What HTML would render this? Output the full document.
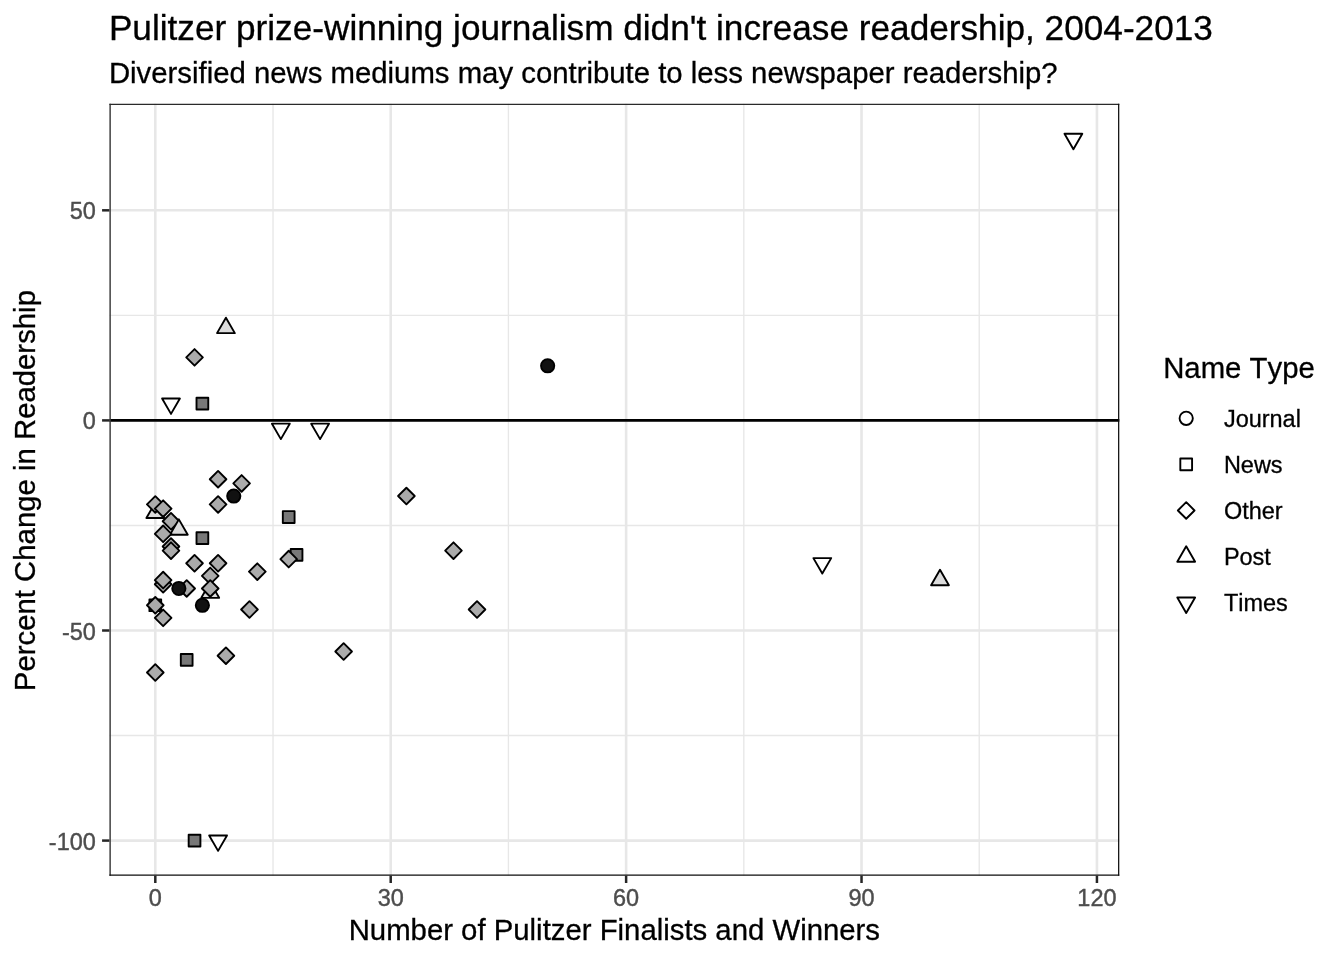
<!DOCTYPE html>
<html lang="en">
<head>
<meta charset="utf-8">
<title>Pulitzer prize-winning journalism didn't increase readership, 2004-2013</title>
<style>
html,body{margin:0;padding:0;background:#fff;}
body{width:1344px;height:960px;overflow:hidden;}
svg{display:block;}
text{font-family:"Liberation Sans",sans-serif;font-kerning:none;}
.ax{font-size:23.47px;fill:#4D4D4D;stroke:#4D4D4D;stroke-width:0.4px;}
.lab{font-size:29.33px;fill:#000;stroke:#000;stroke-width:0.3px;}
.ttl{font-size:35.2px;fill:#000;stroke:#000;stroke-width:0.3px;}
.leg{font-size:23.47px;fill:#000;stroke:#000;stroke-width:0.3px;}
</style>
</head>
<body>
<svg width="1344" height="960" viewBox="0 0 1344 960">
<rect x="0" y="0" width="1344" height="960" fill="#FFFFFF"/>
<text x="108.9" y="40" class="ttl">Pulitzer prize-winning journalism didn't increase readership, 2004-2013</text>
<text x="108.9" y="83" class="lab">Diversified news mediums may contribute to less newspaper readership?</text>
<g stroke="#E7E7E7" fill="none">
<line x1="109.40" x2="1119.30" y1="315.36" y2="315.36" stroke-width="1.35"/>
<line x1="109.40" x2="1119.30" y1="525.45" y2="525.45" stroke-width="1.35"/>
<line x1="109.40" x2="1119.30" y1="735.54" y2="735.54" stroke-width="1.35"/>
<line x1="273.01" x2="273.01" y1="103.80" y2="875.67" stroke-width="1.35"/>
<line x1="508.42" x2="508.42" y1="103.80" y2="875.67" stroke-width="1.35"/>
<line x1="743.82" x2="743.82" y1="103.80" y2="875.67" stroke-width="1.35"/>
<line x1="979.23" x2="979.23" y1="103.80" y2="875.67" stroke-width="1.35"/>
<line x1="109.40" x2="1119.30" y1="210.32" y2="210.32" stroke-width="2.6"/>
<line x1="109.40" x2="1119.30" y1="420.41" y2="420.41" stroke-width="2.6"/>
<line x1="109.40" x2="1119.30" y1="630.50" y2="630.50" stroke-width="2.6"/>
<line x1="109.40" x2="1119.30" y1="840.59" y2="840.59" stroke-width="2.6"/>
<line x1="155.30" x2="155.30" y1="103.80" y2="875.67" stroke-width="2.6"/>
<line x1="390.71" x2="390.71" y1="103.80" y2="875.67" stroke-width="2.6"/>
<line x1="626.12" x2="626.12" y1="103.80" y2="875.67" stroke-width="2.6"/>
<line x1="861.53" x2="861.53" y1="103.80" y2="875.67" stroke-width="2.6"/>
<line x1="1096.94" x2="1096.94" y1="103.80" y2="875.67" stroke-width="2.6"/>
</g>
<line x1="109.40" x2="1119.30" y1="420.41" y2="420.41" stroke="#000" stroke-width="2.6"/>
<g stroke="#000" stroke-width="1.89" stroke-linejoin="round">
<polygon points="162.68,521.25 171.00,512.93 179.31,521.25 171.00,529.56" fill="#ABABAB"/>
<circle cx="547.65" cy="365.78" r="6.63" fill="#111111"/>
<polygon points="1073.40,149.17 1082.31,133.74 1064.49,133.74" fill="#FFFFFF"/>
<polygon points="822.29,573.56 831.20,558.12 813.38,558.12" fill="#FFFFFF"/>
<polygon points="940.00,569.78 948.91,585.22 931.09,585.22" fill="#DCDCDC"/>
<rect x="196.51" y="532.18" width="11.76" height="11.76" fill="#787878"/>
<polygon points="155.30,502.56 164.21,517.99 146.39,517.99" fill="#DCDCDC"/>
<polygon points="445.17,550.66 453.49,542.35 461.80,550.66 453.49,558.98" fill="#ABABAB"/>
<rect x="196.51" y="397.72" width="11.76" height="11.76" fill="#787878"/>
<rect x="290.67" y="548.98" width="11.76" height="11.76" fill="#787878"/>
<polygon points="186.23,563.27 194.54,554.95 202.85,563.27 194.54,571.58" fill="#ABABAB"/>
<rect x="282.82" y="511.17" width="11.76" height="11.76" fill="#787878"/>
<polygon points="217.61,655.71 225.93,647.39 234.24,655.71 225.93,664.02" fill="#ABABAB"/>
<polygon points="201.92,575.87 210.23,567.56 218.55,575.87 210.23,584.19" fill="#ABABAB"/>
<polygon points="171.00,413.89 179.91,398.45 162.09,398.45" fill="#FFFFFF"/>
<polygon points="468.71,609.49 477.03,601.17 485.34,609.49 477.03,617.80" fill="#ABABAB"/>
<circle cx="202.39" cy="605.28" r="6.63" fill="#111111"/>
<polygon points="233.31,483.43 241.62,475.12 249.93,483.43 241.62,491.75" fill="#ABABAB"/>
<polygon points="241.15,609.49 249.47,601.17 257.78,609.49 249.47,617.80" fill="#ABABAB"/>
<polygon points="209.77,504.44 218.08,496.13 226.39,504.44 218.08,512.76" fill="#ABABAB"/>
<polygon points="398.09,496.04 406.41,487.72 414.72,496.04 406.41,504.35" fill="#ABABAB"/>
<polygon points="209.77,479.23 218.08,470.92 226.39,479.23 218.08,487.54" fill="#ABABAB"/>
<polygon points="162.68,546.46 171.00,538.15 179.31,546.46 171.00,554.77" fill="#ABABAB"/>
<polygon points="320.09,439.10 329.00,423.66 311.18,423.66" fill="#FFFFFF"/>
<polygon points="225.93,317.68 234.84,333.11 217.02,333.11" fill="#DCDCDC"/>
<rect x="188.66" y="834.71" width="11.76" height="11.76" fill="#787878"/>
<polygon points="280.39,559.06 288.70,550.75 297.02,559.06 288.70,567.38" fill="#ABABAB"/>
<polygon points="335.32,651.50 343.63,643.19 351.94,651.50 343.63,659.82" fill="#ABABAB"/>
<polygon points="186.23,357.38 194.54,349.06 202.85,357.38 194.54,365.69" fill="#ABABAB"/>
<polygon points="209.77,563.27 218.08,554.95 226.39,563.27 218.08,571.58" fill="#ABABAB"/>
<polygon points="210.23,582.39 219.14,597.82 201.32,597.82" fill="#DCDCDC"/>
<polygon points="249.00,571.67 257.31,563.36 265.63,571.67 257.31,579.98" fill="#ABABAB"/>
<polygon points="162.68,550.66 171.00,542.35 179.31,550.66 171.00,558.98" fill="#ABABAB"/>
<rect x="180.81" y="654.03" width="11.76" height="11.76" fill="#787878"/>
<polygon points="178.38,588.48 186.69,580.16 195.01,588.48 186.69,596.79" fill="#ABABAB"/>
<polygon points="154.84,584.28 163.15,575.96 171.47,584.28 163.15,592.59" fill="#ABABAB"/>
<polygon points="218.08,850.87 226.99,835.44 209.17,835.44" fill="#FFFFFF"/>
<polygon points="154.84,617.89 163.15,609.58 171.47,617.89 163.15,626.20" fill="#ABABAB"/>
<polygon points="154.84,580.07 163.15,571.76 171.47,580.07 163.15,588.39" fill="#ABABAB"/>
<rect x="149.43" y="599.41" width="11.76" height="11.76" fill="#787878"/>
<polygon points="178.85,519.36 187.76,534.80 169.93,534.80" fill="#DCDCDC"/>
<circle cx="233.77" cy="496.04" r="6.63" fill="#111111"/>
<polygon points="146.99,504.44 155.30,496.13 163.62,504.44 155.30,512.76" fill="#ABABAB"/>
<polygon points="154.84,508.64 163.15,500.33 171.47,508.64 163.15,516.96" fill="#ABABAB"/>
<polygon points="146.99,672.51 155.30,664.20 163.62,672.51 155.30,680.83" fill="#ABABAB"/>
<polygon points="280.86,439.10 289.77,423.66 271.94,423.66" fill="#FFFFFF"/>
<polygon points="201.92,588.48 210.23,580.16 218.55,588.48 210.23,596.79" fill="#ABABAB"/>
<polygon points="146.99,605.28 155.30,596.97 163.62,605.28 155.30,613.60" fill="#ABABAB"/>
<circle cx="178.85" cy="588.48" r="6.63" fill="#111111"/>
<polygon points="154.84,533.85 163.15,525.54 171.47,533.85 163.15,542.17" fill="#ABABAB"/>
</g>
<clipPath id="pc"><rect x="109.40" y="103.80" width="1009.90" height="771.87"/></clipPath>
<g clip-path="url(#pc)" fill="none" stroke-width="2.5" stroke-linecap="square">
<line x1="109.40" x2="109.40" y1="103.80" y2="875.67" stroke="#3A3A3A" stroke-width="2.9"/>
<line x1="109.40" x2="1119.30" y1="103.80" y2="103.80" stroke="#2A2A2A"/>
<line x1="1119.30" x2="1119.30" y1="103.80" y2="875.67" stroke="#0D0D0D"/>
<line x1="109.40" x2="1119.30" y1="875.67" y2="875.67" stroke="#0D0D0D"/>
</g>
<g stroke="#262626" stroke-width="2.5">
<line x1="102.07" x2="109.40" y1="210.32" y2="210.32"/>
<line x1="102.07" x2="109.40" y1="420.41" y2="420.41"/>
<line x1="102.07" x2="109.40" y1="630.50" y2="630.50"/>
<line x1="102.07" x2="109.40" y1="840.59" y2="840.59"/>
<line x1="155.30" x2="155.30" y1="875.67" y2="883.00"/>
<line x1="390.71" x2="390.71" y1="875.67" y2="883.00"/>
<line x1="626.12" x2="626.12" y1="875.67" y2="883.00"/>
<line x1="861.53" x2="861.53" y1="875.67" y2="883.00"/>
<line x1="1096.94" x2="1096.94" y1="875.67" y2="883.00"/>
</g>
<text class="ax" text-anchor="end" x="95.8" y="219">50</text>
<text class="ax" text-anchor="end" x="95.8" y="429">0</text>
<text class="ax" text-anchor="end" x="95.8" y="640">-50</text>
<text class="ax" text-anchor="end" x="95.8" y="850">-100</text>
<text class="ax" text-anchor="middle" x="155.30" y="906">0</text>
<text class="ax" text-anchor="middle" x="390.71" y="906">30</text>
<text class="ax" text-anchor="middle" x="626.12" y="906">60</text>
<text class="ax" text-anchor="middle" x="861.53" y="906">90</text>
<text class="ax" text-anchor="middle" x="1096.94" y="906">120</text>
<text class="lab" text-anchor="middle" x="614.35" y="940">Number of Pulitzer Finalists and Winners</text>
<text class="lab" text-anchor="middle" transform="translate(35.4,490.60) rotate(-90)">Percent Change in Readership</text>
<text class="lab" x="1163.2" y="378">Name Type</text>
<g stroke="#000" stroke-width="1.89" stroke-linejoin="round">
<circle cx="1186.20" cy="418.30" r="6.63" fill="none"/>
<rect x="1180.32" y="458.50" width="11.76" height="11.76" fill="none"/>
<polygon points="1177.89,510.46 1186.20,502.15 1194.51,510.46 1186.20,518.77" fill="none"/>
<polygon points="1186.20,546.25 1195.11,561.68 1177.29,561.68" fill="none"/>
<polygon points="1186.20,612.91 1195.11,597.48 1177.29,597.48" fill="none"/>
</g>
<text class="leg" x="1223.9" y="427">Journal</text>
<text class="leg" x="1223.9" y="473">News</text>
<text class="leg" x="1223.9" y="519">Other</text>
<text class="leg" x="1223.9" y="565">Post</text>
<text class="leg" x="1223.9" y="611">Times</text>
</svg>
</body>
</html>
